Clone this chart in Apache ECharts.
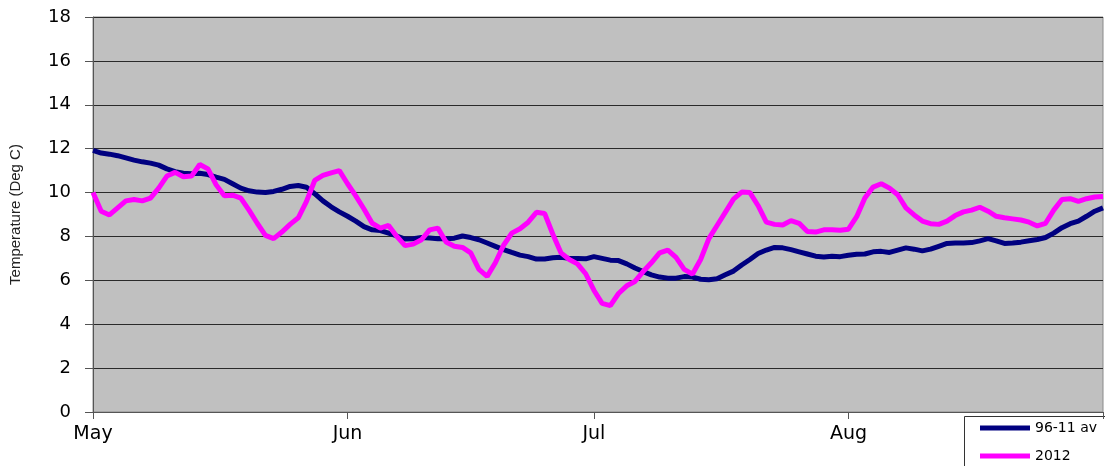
<!DOCTYPE html>
<html>
<head>
<meta charset="utf-8">
<script src="https://cdn.jsdelivr.net/npm/echarts@6/dist/echarts.min.js"></script>
<style>html,body{margin:0;padding:0;background:#fff;}#c{width:1105px;height:466px;}</style>
</head>
<body>
<div id="c"></div>
<script>
var months = ['May', 'Jun', 'Jul', 'Aug', 'Sep'];
var monthDays = [31, 30, 31, 31, 1];
var yTicks = [0, 2, 4, 6, 8, 10, 12, 14, 16, 18];
var seriesNames = ['96-11 av', '2012'];

var avg9611 = [
  11.92, 11.8, 11.75, 11.68, 11.58, 11.48, 11.4, 11.34, 11.25, 11.08,
  10.95, 10.88, 10.86, 10.88, 10.82, 10.7, 10.6, 10.4, 10.2, 10.08,
  10.02, 10.0, 10.05, 10.15, 10.28, 10.32, 10.24, 9.95, 9.62, 9.35,
  9.12, 8.92, 8.7, 8.45, 8.3, 8.27, 8.15, 8.02, 7.88, 7.9,
  7.95, 7.93, 7.9, 7.9, 7.92, 8.02, 7.95, 7.85, 7.7, 7.55,
  7.4, 7.27, 7.15, 7.08, 6.97, 6.97, 7.03, 7.05, 7.0, 7.0,
  6.98, 7.08, 7.0, 6.92, 6.9, 6.75, 6.56, 6.4, 6.25, 6.15,
  6.1, 6.1, 6.17, 6.15, 6.05, 6.03, 6.07, 6.25, 6.42, 6.7,
  6.95, 7.22, 7.38, 7.5, 7.48, 7.4, 7.3, 7.2, 7.1, 7.06,
  7.1, 7.08, 7.14, 7.19, 7.2, 7.3, 7.32, 7.27, 7.38, 7.48,
  7.42, 7.34, 7.42, 7.55, 7.68, 7.7, 7.7, 7.72, 7.8, 7.9,
  7.8, 7.68, 7.7, 7.74, 7.8, 7.86, 7.95, 8.15, 8.4, 8.58,
  8.7, 8.92, 9.15, 9.3
];

var y2012 = [
  10.0, 9.15, 8.98, 9.3, 9.62, 9.68, 9.62, 9.75, 10.2, 10.75,
  10.92, 10.72, 10.75, 11.28, 11.08, 10.35, 9.85, 9.88, 9.75, 9.2,
  8.6, 8.05, 7.9, 8.2, 8.55, 8.85, 9.6, 10.55, 10.78, 10.9,
  11.0, 10.4, 9.85, 9.25, 8.6, 8.38, 8.5, 8.0, 7.58, 7.65,
  7.85, 8.3, 8.38, 7.75, 7.55, 7.5, 7.25, 6.5, 6.18, 6.8,
  7.6, 8.15, 8.35, 8.65, 9.1, 9.05, 8.1, 7.25, 6.95, 6.75,
  6.3, 5.55, 4.95, 4.85, 5.4, 5.75, 5.95, 6.4, 6.8, 7.25,
  7.38, 7.05, 6.5, 6.28, 6.95, 7.9, 8.5, 9.1, 9.7, 10.02,
  10.0, 9.4, 8.65, 8.55, 8.52, 8.72, 8.6, 8.22, 8.2, 8.3,
  8.3, 8.28, 8.33, 8.9, 9.75, 10.25, 10.4, 10.2, 9.9, 9.3,
  8.98, 8.7, 8.58, 8.55, 8.7, 8.95, 9.12, 9.2, 9.33, 9.15,
  8.92, 8.85, 8.8, 8.75, 8.65, 8.48, 8.6, 9.2, 9.68, 9.72,
  9.6, 9.72, 9.8, 9.82
];

// categories: one per day, May 1 .. Sep 1
var categories = [];
var monthStarts = {};
for (var m = 0; m < months.length; m++) {
  for (var d = 1; d <= monthDays[m]; d++) {
    if (d === 1) monthStarts[categories.length] = months[m];
    categories.push(months[m] + ' ' + d);
  }
}
var lastIdx = categories.length - 1;

function legendAt(name, top) {
  return {
    orient: 'vertical', left: 980, top: top, padding: 0,
    itemWidth: 50, itemHeight: 5, itemGap: 6,
    icon: 'rect',
    textStyle: { fontFamily: 'DejaVu Sans', fontSize: 14, color: '#000' },
    data: [name]
  };
}

var chart = echarts.init(document.getElementById('c'));
chart.setOption({
  animation: false,
  backgroundColor: '#ffffff',
  grid: {
    left: 91, right: 2, top: 17, bottom: 54,
    show: true, backgroundColor: '#C0C0C0', borderColor: '#8a8a8a', borderWidth: 1
  },
  legend: [legendAt(seriesNames[0], 421), legendAt(seriesNames[1], 449)],
  graphic: [{
    type: 'rect', left: 964, top: 416, z: -1,
    shape: { width: 150, height: 60 },
    style: { fill: '#fff', stroke: '#333', lineWidth: 1 }
  }],
  xAxis: {
    type: 'category',
    data: categories,
    boundaryGap: false,
    axisLine: { lineStyle: { color: '#555', width: 1 } },
    axisTick: {
      show: true, length: 7, lineStyle: { color: '#555' },
      interval: function (i) { return monthStarts[i] !== undefined || i === lastIdx; }
    },
    axisLabel: {
      interval: function (i) { return monthStarts[i] !== undefined && i !== lastIdx; },
      formatter: function (v, i) { return monthStarts[i] || ''; },
      fontFamily: 'DejaVu Sans', fontSize: 19, color: '#000', margin: 13
    },
    splitLine: { show: false }
  },
  yAxis: {
    type: 'value',
    min: yTicks[0], max: yTicks[yTicks.length - 1], interval: 2,
    name: 'Temperature (Deg C)',
    nameLocation: 'middle', nameGap: 70, nameRotate: 90,
    nameTextStyle: { fontFamily: 'Liberation Sans', fontSize: 15, color: '#222' },
    axisLine: { show: true, lineStyle: { color: '#555', width: 1 } },
    axisTick: { show: true, length: 8, lineStyle: { color: '#555' } },
    axisLabel: { fontFamily: 'DejaVu Sans', fontSize: 18, color: '#000', margin: 22 },
    splitLine: { show: true, lineStyle: { color: '#2a2a2a', width: 1 } }
  },
  series: [
    {
      name: seriesNames[0], type: 'line', data: avg9611,
      showSymbol: false, smooth: false,
      lineStyle: { color: '#000080', width: 5 }, itemStyle: { color: '#000080' }
    },
    {
      name: seriesNames[1], type: 'line', data: y2012,
      showSymbol: false, smooth: false,
      lineStyle: { color: '#FF00FF', width: 5 }, itemStyle: { color: '#FF00FF' }
    }
  ]
});
</script>
</body>
</html>
